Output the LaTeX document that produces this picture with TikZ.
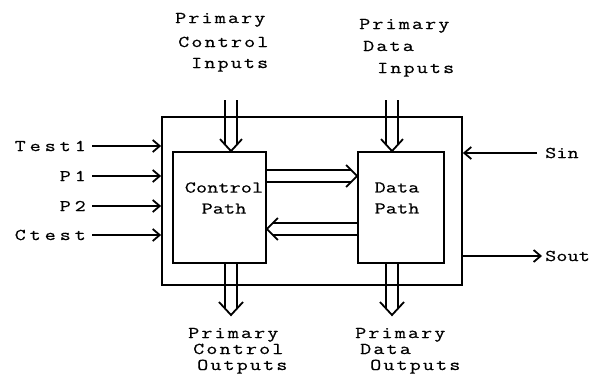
\documentclass[tikz,border=0pt]{standalone}
\usepackage{fontspec}
\newfontfamily\lblfam[FakeStretch=1.3,FakeBold=0.6,LetterSpace=13]{Latin Modern Mono}
\newfontfamily\infam[FakeStretch=1.3,FakeBold=0.6,LetterSpace=1]{Latin Modern Mono}
\newfontfamily\lsfam[FakeStretch=1.3,FakeBold=0.6,LetterSpace=24]{Latin Modern Mono}
\newfontfamily\rsfam[FakeStretch=1.3,FakeBold=0.6,LetterSpace=1]{Latin Modern Mono}
\usetikzlibrary{arrows.meta,backgrounds,calc}
\begin{document}
\begin{tikzpicture}[x=1pt,y=-1pt,line width=1.8pt,
  box/.style={draw,line width=1.8pt,inner sep=0pt},
  lbl/.style={inner sep=0pt,anchor=base west,font=\lblfam\fontsize{16.5}{20}\selectfont},
  inlbl/.style={inner sep=0pt,align=center,font=\infam\fontsize{16.5}{21}\selectfont},
  lside/.style={inner sep=0pt,anchor=east,font=\lsfam\fontsize{16.5}{20}\selectfont},
  rside/.style={inner sep=0pt,anchor=west,font=\rsfam\fontsize{16.5}{20}\selectfont},
  sarr/.style={line width=1.8pt,-{Straight Barb[length=7pt,width=12pt]}},
  shaft/.style={double,double distance=10.2pt,line width=1.8pt},
  chev/.style={line width=1.8pt,line join=miter}]
\useasboundingbox (0,0) rectangle (600,375);

% boxes
\node[box,minimum width=300pt,minimum height=168pt] (outer) at (312,201) {};
\node[box,minimum width=93pt,minimum height=111pt] (cp) at (219.5,207.5) {};
\node[box,minimum width=86pt,minimum height=111pt] (dp) at (401,207.5) {};
\node[inlbl] (cpt) at (224,198) {Control\\Path};
\node[inlbl] (dpt) at (397,198) {Data\\Path};

% free ends
\coordinate (ci) at (231,100);
\coordinate (di) at (392,100);
\coordinate (co) at (231,315);
\coordinate (do) at (392,315);
\coordinate (rr) at (0,176);
\coordinate (ll) at (0,229);

% double shafts behind the boxes
\begin{pgfonlayer}{background}
\draw[shaft] (ci) -- ($(ci |- cp.north)+(0,-6)$);
\draw[shaft] (di) -- ($(di |- dp.north)+(0,-6)$);
\draw[shaft] (ci |- cp.south) -- ($(co)+(0,-6)$);
\draw[shaft] (do |- dp.south) -- ($(do)+(0,-6)$);
\draw[shaft] (cp.east |- rr) -- ($(dp.west |- rr)+(-6,0)$);
\draw[shaft] (dp.west |- ll) -- ($(cp.east |- ll)+(6,0)$);
\end{pgfonlayer}

% chevron heads
\draw[chev] ($(ci |- cp.north)+(-11,-12)$) -- (ci |- cp.north) -- ($(ci |- cp.north)+(11,-12)$);
\draw[chev] ($(di |- dp.north)+(-11,-12)$) -- (di |- dp.north) -- ($(di |- dp.north)+(11,-12)$);
\draw[chev] ($(co)+(-12,-13)$) -- (co) -- ($(co)+(12,-13)$);
\draw[chev] ($(do)+(-12,-13)$) -- (do) -- ($(do)+(12,-13)$);
\draw[chev] ($(dp.west |- rr)+(-11,-11)$) -- (dp.west |- rr) -- ($(dp.west |- rr)+(-11,11)$);
\draw[chev] ($(cp.east |- ll)+(11,-11)$) -- (cp.east |- ll) -- ($(cp.east |- ll)+(11,11)$);

% primary labels
\node[lbl] (pci1) at (175,23) {Primary};
\node[lbl] (pci2) at (178,47) {Control};
\node[lbl] (pci3) at (191,68) {Inputs};
\node[lbl] (pdi1) at (359,29) {Primary};
\node[lbl] (pdi2) at (363,51) {Data};
\node[lbl] (pdi3) at (377,73) {Inputs};
\node[lbl] (pco1) at (188,338) {Primary};
\node[lbl] (pco2) at (193,354) {Control};
\node[lbl] (pco3) at (197,370) {Outputs};
\node[lbl] (pdo1) at (355,338) {Primary};
\node[lbl] (pdo2) at (360,354) {Data};
\node[lbl] (pdo3) at (370,370) {Outputs};

% left inputs
\coordinate (t1) at (92,146);
\coordinate (p1) at (92,176);
\coordinate (p2) at (92,206);
\coordinate (ct) at (92,235);
\draw[sarr] (t1) -- (outer.west |- t1);
\draw[sarr] (p1) -- (outer.west |- p1);
\draw[sarr] (p2) -- (outer.west |- p2);
\draw[sarr] (ct) -- (outer.west |- ct);
\node[lside] (t1l) at (86,146) {Test1};
\node[lside] (p1l) at (86,176) {P1};
\node[lside] (p2l) at (86,206) {P2};
\node[lside] (ctl) at (86,235) {Ctest};

% right side
\coordinate (si) at (537,153);
\coordinate (so) at (542,256);
\draw[sarr] (si) -- (outer.east |- si);
\draw[sarr] (outer.east |- so) -- (so);
\node[rside] (sinl) at (545,153) {Sin};
\node[rside] (soutl) at (545,256) {Sout};
\end{tikzpicture}
\end{document}
